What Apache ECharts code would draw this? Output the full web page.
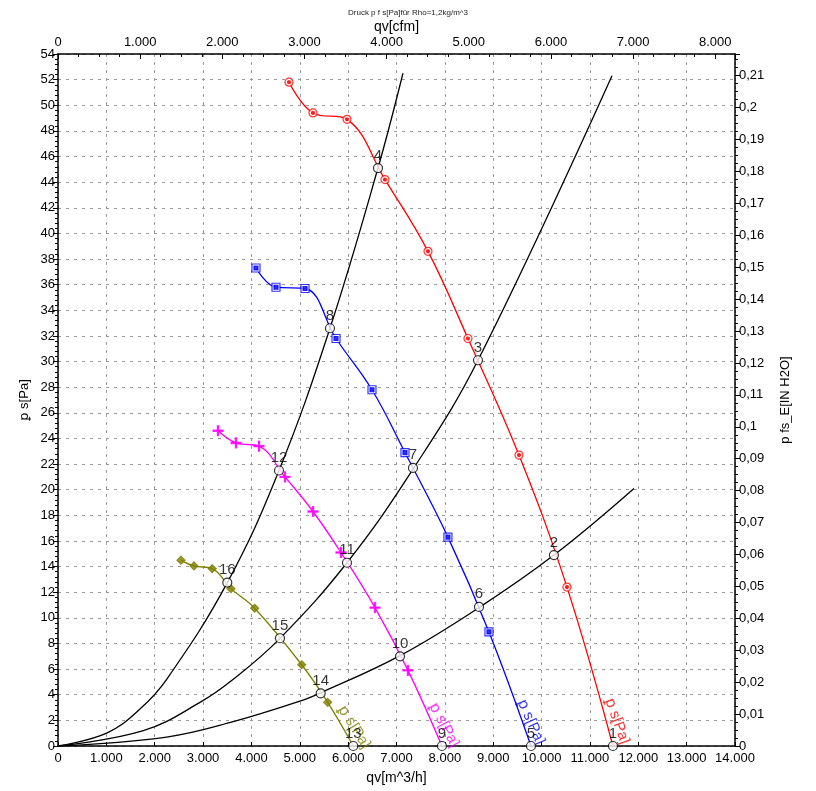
<!DOCTYPE html>
<html>
<head>
<meta charset="utf-8">
<script src="https://cdn.jsdelivr.net/npm/echarts@6/dist/echarts.min.js"></script>
<style>
html, body { margin: 0; padding: 0; background: #fff; }
#main { width: 816px; height: 791px; }
</style>
</head>
<body>
<div id="main"></div>
<script>
// Kennlinien ps [Pa] über qv [m^3/h]
var curveRed = [[4777, 51.8], [5273, 49.4], [5976, 48.9], [6762, 44.2], [7651, 38.6], [8478, 31.8], [9533, 22.7], [10525, 12.4], [11476, 0]];
var curveBlue = [[4094, 37.3], [4508, 35.8], [5108, 35.7], [5749, 31.8], [6493, 27.8], [7175, 22.9], [8064, 16.3], [8912, 8.9], [9781, 0]];
var curveMagenta = [[3309, 24.6], [3681, 23.65], [4156, 23.4], [4694, 21.0], [5273, 18.3], [5852, 15.1], [6555, 10.8], [7237, 5.9], [7940, 0]];
var curveOlive = [[2543, 14.5], [2812, 14.05], [3190, 13.84], [3577, 12.28], [4067, 10.75], [5039, 6.34], [5577, 3.41], [6106, 0]];

// Anlagenkennlinien (schwarz)
var systemA = [[0, 0], [1006, 1.0], [1700, 2.9], [2247, 5.2], [3501, 12.75], [4570, 21.5], [5624, 32.6], [6617, 45.1], [7134, 52.5]];
var systemB = [[0, 0], [1764, 1.2], [2936, 3.4], [3624, 5.2], [4590, 8.4], [5976, 14.3], [7341, 21.6], [8685, 30.1], [11456, 52.3]];
var systemC = [[0, 0], [2247, 0.7], [3624, 1.9], [5004, 3.5], [5432, 4.15], [7072, 7.05], [8706, 10.8], [10256, 14.9], [11911, 20.1]];

// Betriebspunkte 1..16
var opLabels = ['1', '2', '3', '4', '5', '6', '7', '8', '9', '10', '11', '12', '13', '14', '15', '16'];
var opPoints = [[11476, 0], [10256, 14.9], [8685, 30.1], [6617, 45.1], [9781, 0], [8706, 10.85], [7341, 21.7], [5624, 32.6],
    [7940, 0], [7072, 7.0], [5976, 14.3], [4570, 21.5], [6106, 0], [5432, 4.11], [4590, 8.41], [3501, 12.75]];

// Position der Kurvenbeschriftung
var curveLabelPos = [[11559, 1.95], [9781, 1.87], [7982, 1.64], [6121, 1.48]];

var xTicksM3h = [0, 14000];
var yTicksPa = [0, 54];

var fanChart = {};
fanChart.font = 'Liberation Sans, Arial, DejaVu Sans, Noto Sans, sans-serif';
fanChart.psText = '\ua751 s[Pa]';

fanChart.thousands = function (v) {
    var s = String(Math.round(v));
    if (s.length > 3) {
        s = s.slice(0, s.length - 3) + '.' + s.slice(s.length - 3);
    }
    return s;
};

fanChart.comma = function (v) {
    return String(parseFloat(v.toFixed(3))).replace('.', ',');
};

fanChart.extend = function (a, b) {
    for (var k in b) { a[k] = b[k]; }
    return a;
};

fanChart.curve = function (name, data, color) {
    return {
        name: name,
        type: 'line',
        data: data,
        smooth: 0.4,
        showSymbol: false,
        lineStyle: { color: color, width: 1.3 },
        z: 3,
        silent: true
    };
};

fanChart.markers = function (data, symbol, size, color, fill) {
    return {
        type: 'scatter',
        data: data.slice(0, data.length - 1),
        symbol: symbol,
        symbolSize: size,
        itemStyle: { color: fill, borderColor: color, borderWidth: 1.2 },
        z: 4,
        silent: true
    };
};

fanChart.curveLabel = function (pos, color, rot) {
    return {
        type: 'scatter',
        data: [pos],
        symbolSize: 0,
        z: 5,
        silent: true,
        label: {
            show: true,
            position: 'inside',
            formatter: fanChart.psText,
            color: color,
            fontSize: 15,
            fontFamily: fanChart.font,
            rotate: rot
        }
    };
};

fanChart.render = function () {
    var chart = echarts.init(document.getElementById('main'));
    var opData = [];
    for (var i = 0; i < opPoints.length; i++) {
        opData.push({ name: opLabels[i], value: opPoints[i] });
    }
    var gridLine = { show: true, lineStyle: { color: '#9a9a9a', type: [3, 5], width: 1 } };
    var axisBlack = { show: true, onZero: false, lineStyle: { color: '#000', width: 1.5 } };
    var labelStyle = { color: '#000', fontSize: 13, fontFamily: fanChart.font };

    var option = {
        backgroundColor: '#fff',
        animation: false,
        title: {
            text: 'Druck p f s[Pa]für Rho=1,2kg/m^3',
            left: 'center',
            top: 4,
            textStyle: { fontSize: 8, fontWeight: 'normal', color: '#222', fontFamily: fanChart.font }
        },
        grid: { left: 58, right: 81, top: 54, bottom: 45 },
        xAxis: [{
            type: 'value',
            position: 'bottom',
            min: xTicksM3h[0],
            max: xTicksM3h[1],
            interval: 1000,
            name: 'qv[m^3/h]',
            nameLocation: 'middle',
            nameGap: 25,
            nameMoveOverlap: false,
            nameTextStyle: { color: '#000', fontSize: 14, fontFamily: fanChart.font },
            axisLine: axisBlack,
            axisTick: { show: true, inside: true, length: 4, lineStyle: { color: '#000' } },
            axisLabel: fanChart.extend({ formatter: fanChart.thousands, margin: 6 }, labelStyle),
            splitLine: gridLine
        }, {
            type: 'value',
            position: 'top',
            min: 0,
            max: xTicksM3h[1] / 1.699,
            interval: 1000,
            name: 'qv[cfm]',
            nameLocation: 'middle',
            nameGap: 20,
            nameMoveOverlap: false,
            nameTextStyle: { color: '#000', fontSize: 14, fontFamily: fanChart.font },
            axisLine: axisBlack,
            axisTick: { show: true, inside: true, length: 5, lineStyle: { color: '#000' } },
            minorTick: { show: true, splitNumber: 4, length: 3, lineStyle: { color: '#000' } },
            axisLabel: fanChart.extend({ formatter: fanChart.thousands, margin: 5, showMaxLabel: false }, labelStyle),
            splitLine: { show: false }
        }],
        yAxis: [{
            type: 'value',
            position: 'left',
            min: yTicksPa[0],
            max: yTicksPa[1],
            interval: 2,
            name: fanChart.psText,
            nameLocation: 'middle',
            nameGap: 27,
            nameMoveOverlap: false,
            nameTextStyle: { color: '#000', fontSize: 13, fontFamily: fanChart.font },
            axisLine: axisBlack,
            axisTick: { show: true, length: 5, lineStyle: { color: '#000' } },
            minorTick: { show: true, splitNumber: 5, length: 3, lineStyle: { color: '#000' } },
            axisLabel: fanChart.extend({ margin: 3 }, labelStyle),
            splitLine: gridLine
        }, {
            type: 'value',
            position: 'right',
            min: 0,
            max: yTicksPa[1] / 249.09,
            interval: 0.01,
            name: 'p fs_E[IN H2O]',
            nameLocation: 'middle',
            nameGap: 44,
            nameMoveOverlap: false,
            nameTextStyle: { color: '#000', fontSize: 13, fontFamily: fanChart.font },
            axisLine: axisBlack,
            axisTick: { show: true, length: 5, lineStyle: { color: '#000' } },
            minorTick: { show: true, splitNumber: 4, length: 3, lineStyle: { color: '#000' } },
            axisLabel: fanChart.extend({ formatter: fanChart.comma, margin: 4, showMaxLabel: false }, labelStyle),
            splitLine: { show: false }
        }],
        series: [
            fanChart.curve('A', systemA, '#000'),
            fanChart.curve('B', systemB, '#000'),
            fanChart.curve('C', systemC, '#000'),
            fanChart.curve('rot', curveRed, '#ff0000'),
            fanChart.curve('blau', curveBlue, '#0000ff'),
            fanChart.curve('magenta', curveMagenta, '#ff00ff'),
            fanChart.curve('oliv', curveOlive, '#808000'),
            fanChart.markers(curveRed, 'circle', 8, '#ff0000', '#fff'),
            fanChart.markers(curveRed, 'circle', 3, '#ff0000', '#ff0000'),
            fanChart.markers(curveBlue, 'rect', 8, '#0000ff', '#fff'),
            fanChart.markers(curveBlue, 'rect', 4, '#0000ff', '#0000ff'),
            fanChart.markers(curveMagenta, 'path://M4.4,0h1.2v4.4h4.4v1.2h-4.4v4.4h-1.2v-4.4h-4.4v-1.2h4.4z', 10, '#ff00ff', '#ff00ff'),
            fanChart.markers(curveOlive, 'diamond', 8, '#808000', '#808000'),
            fanChart.curveLabel(curveLabelPos[0], '#ff0000', -70),
            fanChart.curveLabel(curveLabelPos[1], '#0000ff', -66),
            fanChart.curveLabel(curveLabelPos[2], '#ff00ff', -62),
            fanChart.curveLabel(curveLabelPos[3], '#808000', -58),
            {
                type: 'scatter',
                data: opData,
                symbol: 'circle',
                symbolSize: 9,
                itemStyle: { color: '#fff', borderColor: '#000', borderWidth: 1.2 },
                z: 6,
                silent: true,
                label: {
                    show: true,
                    position: 'top',
                    distance: 0,
                    formatter: '{b}',
                    color: '#000',
                    fontSize: 15,
                    fontFamily: fanChart.font
                }
            }
        ]
    };
    chart.setOption(option);
};

fanChart.render();
</script>
</body>
</html>
